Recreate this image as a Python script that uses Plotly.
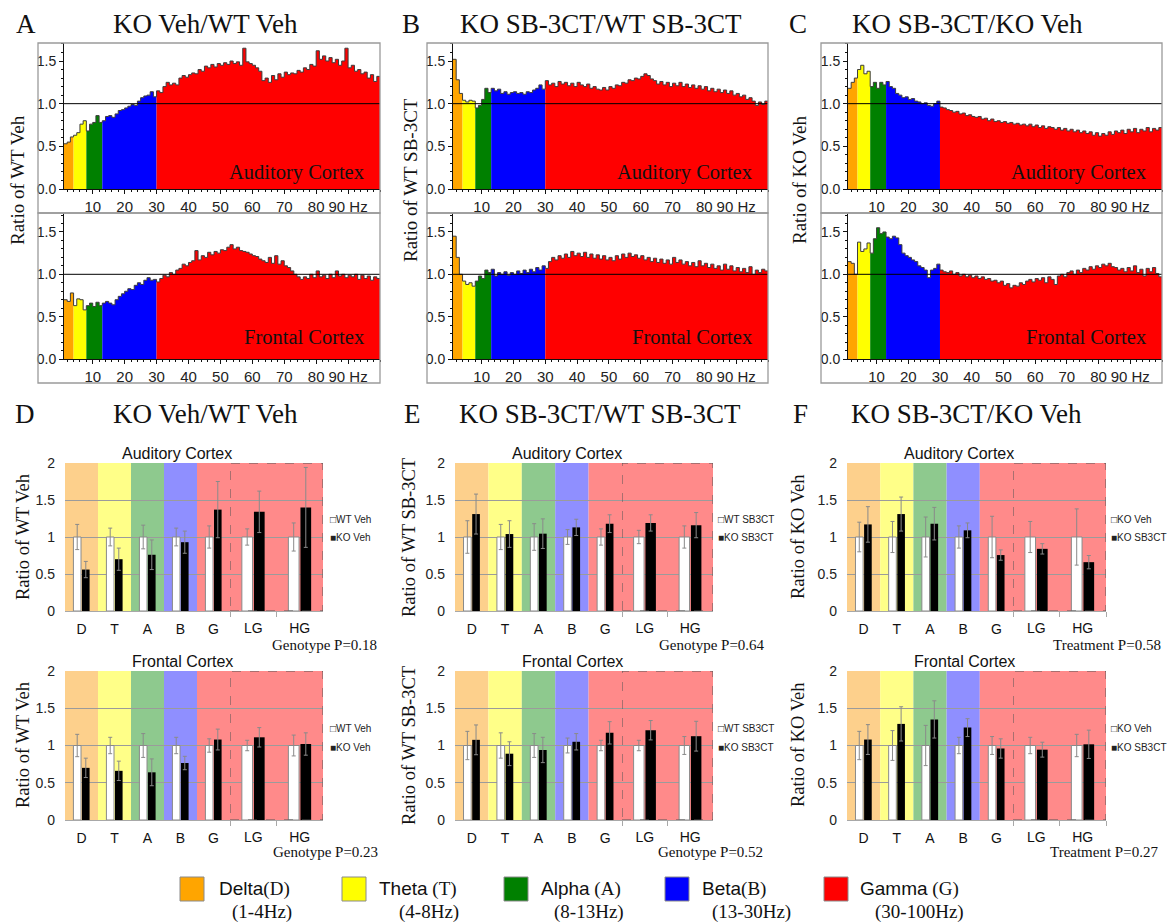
import plotly.graph_objects as go

# ------------------------------------------------------------------ data
FREQ_HZ = list(range(1, 100))  # 1-Hz bins (left edges), 1..99 Hz

A_AUDITORY = [0.53, 0.55, 0.61, 0.63, 0.66, 0.76, 0.80, 0.68, 0.76, 0.78,
              0.86, 0.78, 0.80, 0.85, 0.86, 0.84, 0.88, 0.92, 0.93, 0.95,
              0.97, 0.99, 0.98, 1.03, 1.07, 1.09, 1.10, 1.14, 1.08, 1.15,
              1.13, 1.20, 1.25, 1.22, 1.24, 1.22, 1.30, 1.33, 1.31, 1.34,
              1.36, 1.35, 1.40, 1.38, 1.44, 1.42, 1.46, 1.43, 1.47, 1.45,
              1.48, 1.46, 1.50, 1.47, 1.49, 1.45, 1.65, 1.49, 1.47, 1.45,
              1.42, 1.38, 1.27, 1.30, 1.25, 1.33, 1.28, 1.35, 1.31, 1.37,
              1.34, 1.36, 1.35, 1.39, 1.37, 1.42, 1.40, 1.46, 1.44, 1.62,
              1.52, 1.56, 1.50, 1.54, 1.48, 1.52, 1.45, 1.50, 1.65, 1.42,
              1.45, 1.38, 1.40, 1.35, 1.37, 1.30, 1.34, 1.26, 1.32]
A_FRONTAL = [0.70, 0.68, 0.78, 0.63, 0.71, 0.70, 0.58, 0.63, 0.66, 0.62,
             0.67, 0.63, 0.66, 0.68, 0.66, 0.64, 0.70, 0.74, 0.77, 0.80,
             0.83, 0.82, 0.87, 0.90, 0.88, 0.93, 0.96, 0.93, 0.94, 0.91,
             0.95, 0.99, 0.97, 1.02, 1.00, 1.05, 1.07, 1.12, 1.10, 1.14,
             1.16, 1.28, 1.17, 1.22, 1.20, 1.26, 1.23, 1.27, 1.25, 1.29,
             1.28, 1.32, 1.35, 1.30, 1.32, 1.28, 1.27, 1.26, 1.24, 1.22,
             1.21, 1.18, 1.16, 1.14, 1.20, 1.13, 1.22, 1.12, 1.16, 1.10,
             1.08, 1.04, 1.00, 0.97, 0.94, 0.97, 0.95, 1.00, 0.96, 1.04,
             0.97, 0.99, 0.95, 1.00, 0.96, 1.04, 0.98, 1.00, 0.96, 0.99,
             0.97, 1.00, 0.94, 0.99, 0.95, 0.98, 0.93, 0.97, 0.95]
B_AUDITORY = [1.52, 1.28, 1.12, 1.04, 1.02, 1.04, 1.03, 0.95, 0.98, 1.05,
              1.18, 1.13, 1.18, 1.15, 1.17, 1.12, 1.14, 1.11, 1.13, 1.14,
              1.12, 1.13, 1.11, 1.14, 1.13, 1.16, 1.18, 1.22, 1.17, 1.27,
              1.22, 1.24, 1.20, 1.26, 1.23, 1.25, 1.21, 1.24, 1.20, 1.25,
              1.22, 1.20, 1.23, 1.18, 1.20, 1.17, 1.16, 1.19, 1.16, 1.20,
              1.18, 1.22, 1.21, 1.25, 1.24, 1.28, 1.27, 1.30, 1.29, 1.32,
              1.35, 1.33, 1.29, 1.27, 1.23, 1.26, 1.22, 1.25, 1.20, 1.24,
              1.21, 1.25, 1.20, 1.23, 1.19, 1.22, 1.18, 1.21, 1.17, 1.20,
              1.15, 1.18, 1.14, 1.17, 1.13, 1.16, 1.12, 1.15, 1.10, 1.12,
              1.08, 1.10, 1.05, 1.07, 1.03, 0.98, 1.02, 0.99, 1.03]
B_FRONTAL = [1.45, 1.20, 1.00, 0.92, 0.88, 0.90, 0.86, 0.92, 0.98, 0.95,
             1.05, 1.02, 1.06, 0.98, 1.02, 1.00, 1.03, 0.99, 1.02, 1.00,
             1.04, 1.01, 1.05, 1.02, 1.06, 1.03, 1.08, 1.05, 1.10, 1.07,
             1.15, 1.20, 1.17, 1.22, 1.19, 1.24, 1.20, 1.27, 1.22, 1.25,
             1.21, 1.26, 1.20, 1.24, 1.19, 1.23, 1.18, 1.22, 1.17, 1.20,
             1.16, 1.22, 1.18, 1.24, 1.20, 1.25, 1.21, 1.23, 1.19, 1.22,
             1.17, 1.20, 1.15, 1.19, 1.14, 1.18, 1.13, 1.17, 1.12, 1.20,
             1.14, 1.17, 1.12, 1.15, 1.10, 1.14, 1.09, 1.16, 1.10, 1.13,
             1.08, 1.12, 1.07, 1.10, 1.05, 1.12, 1.06, 1.10, 1.04, 1.08,
             1.03, 1.07, 1.02, 1.09, 1.00, 1.05, 1.02, 1.06, 1.04]
C_AUDITORY = [1.18, 1.25, 1.30, 1.40, 1.45, 1.35, 1.38, 1.20, 1.25, 1.18,
              1.25, 1.22, 1.26, 1.20, 1.18, 1.12, 1.10, 1.07, 1.08, 1.05,
              1.06, 1.03, 1.02, 1.00, 1.01, 0.98, 0.97, 1.00, 1.03, 0.96,
              0.95, 0.93, 0.92, 0.90, 0.91, 0.88, 0.89, 0.86, 0.87, 0.85,
              0.84, 0.85, 0.82, 0.83, 0.80, 0.82, 0.79, 0.80, 0.78, 0.79,
              0.77, 0.78, 0.76, 0.77, 0.75, 0.76, 0.74, 0.76, 0.73, 0.75,
              0.72, 0.74, 0.71, 0.73, 0.72, 0.70, 0.72, 0.69, 0.71, 0.68,
              0.70, 0.67, 0.69, 0.66, 0.68, 0.65, 0.67, 0.63, 0.66, 0.62,
              0.65, 0.63, 0.67, 0.64, 0.68, 0.66, 0.69, 0.65, 0.70, 0.67,
              0.71, 0.66, 0.70, 0.68, 0.72, 0.67, 0.71, 0.69, 0.72]
C_FRONTAL = [1.15, 1.13, 1.00, 1.38, 1.27, 1.30, 1.37, 1.25, 1.42, 1.55,
             1.48, 1.50, 1.44, 1.42, 1.45, 1.43, 1.35, 1.25, 1.22, 1.20,
             1.17, 1.15, 1.10, 1.08, 1.05, 0.96, 1.05, 1.07, 1.12, 1.05,
             1.03, 1.02, 1.04, 1.00, 1.02, 0.98, 1.00, 0.97, 0.99, 0.96,
             0.98, 0.95, 0.97, 0.94, 0.95, 0.92, 0.93, 0.90, 0.92, 0.87,
             0.89, 0.84, 0.87, 0.86, 0.90, 0.88, 0.92, 0.94, 0.91, 0.95,
             0.93, 0.96, 0.90, 0.97, 0.94, 0.88, 0.98, 1.00, 0.97, 1.02,
             1.04, 1.00, 1.05, 1.02, 1.07, 1.05, 1.09, 1.06, 1.10, 1.08,
             1.12, 1.10, 1.13, 1.09, 1.08, 1.05, 1.07, 1.03, 1.08, 1.04,
             1.10, 1.02, 1.06, 0.98, 1.07, 1.03, 1.08, 1.01, 0.97]

BAND_CATS = ["D", "T", "A", "B", "G"]
GAMMA_CATS = ["LG", "HG"]

D_AUD_CTRL = [1, 1, 1, 1, 1, 1, 1]
D_AUD_CTRL_ERR = [0.17, 0.12, 0.16, 0.12, 0.15, 0.11, 0.19]
D_AUD_EXP = [0.56, 0.70, 0.76, 0.93, 1.37, 1.34, 1.40]
D_AUD_EXP_ERR = [0.11, 0.15, 0.20, 0.15, 0.38, 0.28, 0.54]
D_FRO_CTRL = [1, 1, 1, 1, 1, 1, 1]
D_FRO_CTRL_ERR = [0.15, 0.11, 0.16, 0.11, 0.09, 0.07, 0.14]
D_FRO_EXP = [0.70, 0.66, 0.64, 0.765, 1.08, 1.11, 1.02]
D_FRO_EXP_ERR = [0.13, 0.13, 0.18, 0.09, 0.14, 0.13, 0.15]

E_AUD_CTRL = [1, 1, 1, 1, 1, 1, 1]
E_AUD_CTRL_ERR = [0.22, 0.17, 0.18, 0.10, 0.11, 0.09, 0.15]
E_AUD_EXP = [1.31, 1.04, 1.045, 1.13, 1.18, 1.19, 1.16]
E_AUD_EXP_ERR = [0.27, 0.18, 0.20, 0.11, 0.12, 0.11, 0.17]
E_FRO_CTRL = [1, 1, 1, 1, 1, 1, 1]
E_FRO_CTRL_ERR = [0.19, 0.17, 0.16, 0.10, 0.07, 0.07, 0.12]
E_FRO_EXP = [1.076, 0.89, 0.94, 1.05, 1.17, 1.205, 1.125]
E_FRO_EXP_ERR = [0.20, 0.16, 0.17, 0.11, 0.15, 0.13, 0.20]

F_AUD_CTRL = [1, 1, 1, 1, 1, 1, 1]
F_AUD_CTRL_ERR = [0.20, 0.21, 0.27, 0.15, 0.28, 0.21, 0.38]
F_AUD_EXP = [1.17, 1.31, 1.18, 1.09, 0.756, 0.84, 0.66]
F_AUD_EXP_ERR = [0.24, 0.23, 0.22, 0.10, 0.07, 0.07, 0.09]
F_FRO_CTRL = [1, 1, 1, 1, 1, 1, 1]
F_FRO_CTRL_ERR = [0.19, 0.20, 0.27, 0.11, 0.12, 0.11, 0.15]
F_FRO_EXP = [1.08, 1.29, 1.35, 1.24, 0.96, 0.944, 1.016]
F_FRO_EXP_ERR = [0.20, 0.23, 0.25, 0.12, 0.13, 0.10, 0.19]

LEGEND_BANDS = [("Delta", "(D)", "(1-4Hz)"), ("Theta", " (T)", "(4-8Hz)"),
                ("Alpha", " (A)", "(8-13Hz)"), ("Beta", "(B)", "(13-30Hz)"),
                ("Gamma", " (G)", "(30-100Hz)")]

# ------------------------------------------------------------------ styling
W, H = 1172, 923


def px(x):
    return x / W


def py(y):
    return 1 - y / H


SERIF = "Liberation Serif"
SANS = "Liberation Sans"
BAND_EDGES = [(1, 4), (4, 8), (8, 13), (13, 30), (30, 100)]
BAND_STRONG = ["#FFA500", "#FFFF00", "#008000", "#0000FF", "#FF0000"]
BAND_LIGHT = ["#FDD08C", "#FFFF88", "#8EC98E", "#8F8FFF", "#FF8A8A"]

fig = go.Figure()
layout = {}
shapes = []
annotations = []
counter = [0]


def new_axes():
    counter[0] += 1
    n = counter[0]
    s = "" if n == 1 else str(n)
    return "xaxis" + s, "yaxis" + s, "x" + s, "y" + s


def text(x, y, t, size, family=SERIF, xanchor="center", yanchor="middle",
         angle=0, color="#111"):
    annotations.append(dict(x=px(x), y=py(y), xref="paper", yref="paper",
                            text=t, showarrow=False, xanchor=xanchor,
                            yanchor=yanchor, textangle=angle,
                            font=dict(family=family, size=size, color=color)))


# ------------------------------------------------------------------ spectra
XT = [10, 20, 30, 40, 50, 60, 70, 80, 90]
XT_TEXT = ["10", "20", "30", "40", "50", "60", "70", "80", "90 Hz"]


def spectrum(vals, box_l, plot_l, plot_r, box_t, y_top, y_bot, box_b,
             ymax, label, label_y):
    xa, ya, xr, yr = new_axes()
    layout[xa] = dict(domain=[px(plot_l), px(plot_r)], anchor=yr,
                      automargin=False,
                      range=[1, 100], tickmode="array", tickvals=XT,
                      ticktext=XT_TEXT, ticks="outside", ticklen=4,
                      tickcolor="#111", showline=True, linecolor="#111",
                      linewidth=1, showgrid=False, zeroline=False,
                      tickfont=dict(family=SANS, size=15, color="#222"),
                      minor=dict(tickmode="linear", tick0=0, dtick=2,
                                 ticks="outside", ticklen=2,
                                 tickcolor="#111"))
    layout[ya] = dict(domain=[py(y_bot), py(y_top)], anchor=xr,
                      automargin=False,
                      range=[0, ymax], tickmode="array",
                      tickvals=[0, 0.5, 1, 1.5],
                      ticktext=["0.0", "0.5", "1.0", "1.5"],
                      ticks="outside", ticklen=4, tickcolor="#111",
                      showline=True, linecolor="#111", linewidth=1,
                      showgrid=False, zeroline=False,
                      tickfont=dict(family=SANS, size=14, color="#222"),
                      minor=dict(tickmode="linear", tick0=0, dtick=0.1,
                                 ticks="outside", ticklen=2,
                                 tickcolor="#111"))
    # one filled step area per frequency band
    for (lo, hi), col in zip(BAND_EDGES, BAND_STRONG):
        seg = vals[lo - 1:hi - 1]
        xs = FREQ_HZ[lo - 1:hi - 1] + [hi]
        fig.add_trace(go.Scatter(x=xs, y=seg + [seg[-1]], mode="lines",
                                 line=dict(shape="hv", width=0, color=col),
                                 fill="tozeroy", fillcolor=col,
                                 xaxis=xr, yaxis=yr, showlegend=False,
                                 hoverinfo="skip"))
    fig.add_trace(go.Scatter(x=FREQ_HZ + [100], y=vals + [vals[-1]],
                             mode="lines",
                             line=dict(shape="hv", color="#3c3c3c", width=1),
                             xaxis=xr, yaxis=yr, showlegend=False,
                             hoverinfo="skip"))
    shapes.append(dict(type="line", xref=xr, yref=yr, x0=1, x1=100,
                       y0=1, y1=1, line=dict(color="#000", width=1),
                       layer="above"))
    shapes.append(dict(type="rect", xref="paper", yref="paper",
                       x0=px(box_l), x1=px(plot_r), y0=py(box_b),
                       y1=py(box_t), line=dict(color="#9a9a9a", width=1.3),
                       layer="above"))
    text(plot_r - 14, label_y, label, 20.5, xanchor="right")


SPEC_PANELS = [
    dict(letter="A", title="KO Veh/WT Veh", ylab="Ratio of WT Veh",
         letter_x=26, title_x=205, ylab_x=18, box_l=38, plot_l=64,
         plot_r=380, data=(A_AUDITORY, A_FRONTAL)),
    dict(letter="B", title="KO SB-3CT/WT SB-3CT", ylab="Ratio of WT SB-3CT",
         letter_x=411, title_x=601, ylab_x=411, box_l=427, plot_l=453,
         plot_r=768, data=(B_AUDITORY, B_FRONTAL)),
    dict(letter="C", title="KO SB-3CT/KO Veh", ylab="Ratio of KO Veh",
         letter_x=798, title_x=967, ylab_x=800, box_l=821, plot_l=848,
         plot_r=1162, data=(C_AUDITORY, C_FRONTAL)),
]

for p in SPEC_PANELS:
    aud, fro = p["data"]
    spectrum(aud, p["box_l"], p["plot_l"], p["plot_r"], 43, 43, 189, 213,
             1.711, "Auditory Cortex", 172)
    spectrum(fro, p["box_l"], p["plot_l"], p["plot_r"], 213, 213, 359, 383,
             1.724, "Frontal Cortex", 337)
    text(p["letter_x"], 24, p["letter"], 27)
    text(p["title_x"], 24, p["title"], 27)
    text(p["ylab_x"], 180, p["ylab"], 19, angle=-90)


# ------------------------------------------------------------------ bar panels
def bar_chart(plot_l, split, plot_r, y_top, y_bot, ctrl, ctrl_err, exp,
              exp_err, names, region, legend_x, legend_y, region_dx):
    main_ax = new_axes()
    gam_ax = new_axes()
    for (xa, ya, xr, yr), cats, dom, show in (
            (main_ax, BAND_CATS, [px(plot_l), px(split)], True),
            (gam_ax, GAMMA_CATS, [px(split), px(plot_r)], False)):
        xcfg = dict(domain=dom, anchor=yr, type="category", automargin=False,
                    range=[-0.5, len(cats) - 0.5], categoryorder="array",
                    categoryarray=cats, showline=True, linecolor="#a8a8a8",
                    showgrid=False, zeroline=False, ticks="",
                    ticklabelstandoff=5,
                    tickfont=dict(family=SANS, size=14, color="#111"))
        if not show:
            xcfg.update(tickson="boundaries", ticks="outside", ticklen=5,
                        tickcolor="#a8a8a8", ticklabelstandoff=4)
        layout[xa] = xcfg
        layout[ya] = dict(domain=[py(y_bot), py(y_top)], anchor=xr,
                          automargin=False,
                          range=[0, 2], tickmode="array",
                          tickvals=[0, 0.5, 1, 1.5, 2],
                          ticktext=["0", "0.5", "1", "1.5", "2"],
                          showticklabels=show, showgrid=True,
                          gridcolor="#9b9b9b", gridwidth=1, zeroline=False,
                          showline=False, ticks="", ticklabelstandoff=9,
                          tickfont=dict(family=SANS, size=14, color="#222"))
    xr, yr = main_ax[2], main_ax[3]
    for i, cat in enumerate(BAND_CATS):
        shapes.append(dict(type="rect", xref=xr, yref=yr, x0=i - 0.5,
                           x1=i + 0.5, y0=0, y1=2, fillcolor=BAND_LIGHT[i],
                           line=dict(width=0), layer="below"))
    gx, gy = gam_ax[2], gam_ax[3]
    shapes.append(dict(type="rect", xref=gx, yref=gy, x0=-0.5, x1=1.5,
                       y0=0, y1=2, fillcolor=BAND_LIGHT[4],
                       line=dict(width=0), layer="below"))
    shapes.append(dict(type="rect", xref=gx, yref=gy, x0=-0.5, x1=1.5,
                       y0=0, y1=2, line=dict(color="#555", width=1,
                                             dash="dash"),
                       layer="above"))
    for (xa, ya, xr_, yr_), cats, sl in ((main_ax, BAND_CATS, slice(0, 5)),
                                         (gam_ax, GAMMA_CATS, slice(5, 7))):
        fig.add_trace(go.Bar(
            x=cats, y=ctrl[sl], offset=-0.245, width=0.23,
            marker=dict(color="white", line=dict(color="#8a8a8a", width=1)),
            error_y=dict(type="data", array=ctrl_err[sl], color="#8a8a8a",
                         thickness=1, width=2),
            xaxis=xr_, yaxis=yr_, showlegend=False, hoverinfo="skip"))
        fig.add_trace(go.Bar(
            x=cats, y=exp[sl], offset=0.015, width=0.23,
            marker=dict(color="black", line=dict(width=0)),
            error_y=dict(type="data", array=exp_err[sl], color="#8a8a8a",
                         thickness=1, width=2),
            xaxis=xr_, yaxis=yr_, showlegend=False, hoverinfo="skip"))
    text(plot_l + region_dx, y_top - 10, region, 16, family=SANS,
         color="#111")
    text(legend_x, legend_y[0], "\u25a1" + names[0], 10, family=SANS,
         xanchor="left", color="#222")
    text(legend_x, legend_y[1], "\u25a0" + names[1], 10, family=SANS,
         xanchor="left", color="#222")


BAR_PANELS = [
    dict(letter="D", title="KO Veh/WT Veh", ylab="Ratio of WT Veh",
         letter_x=25, title_x=205, ylab_x=23, l=65, s=230, r=323,
         names=("WT Veh", "KO Veh"), legend_x=328,
         aud=(D_AUD_CTRL, D_AUD_CTRL_ERR, D_AUD_EXP, D_AUD_EXP_ERR),
         fro=(D_FRO_CTRL, D_FRO_CTRL_ERR, D_FRO_EXP, D_FRO_EXP_ERR),
         p_lab=("Genotype P=0.18", "Genotype P=0.23"), p_x=(379, 380)),
    dict(letter="E", title="KO SB-3CT/WT SB-3CT", ylab="Ratio of WT SB-3CT",
         letter_x=412, title_x=600, ylab_x=409, l=455, s=622, r=713,
         names=("WT SB3CT", "KO SB3CT"), legend_x=716,
         aud=(E_AUD_CTRL, E_AUD_CTRL_ERR, E_AUD_EXP, E_AUD_EXP_ERR),
         fro=(E_FRO_CTRL, E_FRO_CTRL_ERR, E_FRO_EXP, E_FRO_EXP_ERR),
         p_lab=("Genotype P=0.64", "Genotype P=0.52"), p_x=(767, 765)),
    dict(letter="F", title="KO SB-3CT/KO Veh", ylab="Ratio of KO Veh",
         letter_x=800, title_x=966, ylab_x=798, l=847, s=1013, r=1106,
         names=("KO Veh", "KO SB3CT"), legend_x=1109,
         aud=(F_AUD_CTRL, F_AUD_CTRL_ERR, F_AUD_EXP, F_AUD_EXP_ERR),
         fro=(F_FRO_CTRL, F_FRO_CTRL_ERR, F_FRO_EXP, F_FRO_EXP_ERR),
         p_lab=("Treatment P=0.58", "Treatment P=0.27"), p_x=(1163, 1160)),
]

for p in BAR_PANELS:
    bar_chart(p["l"], p["s"], p["r"], 463, 611, *p["aud"], p["names"],
              "Auditory Cortex", p["legend_x"], (519, 537), 112)
    bar_chart(p["l"], p["s"], p["r"], 671, 820, *p["fro"], p["names"],
              "Frontal Cortex", p["legend_x"], (728, 747), 117)
    text(p["letter_x"], 414, p["letter"], 27)
    text(p["title_x"], 414, p["title"], 27)
    text(p["ylab_x"], 537, p["ylab"], 18.5, angle=-90)
    text(p["ylab_x"], 745, p["ylab"], 18.5, angle=-90)
    text(p["p_x"][0], 645, p["p_lab"][0], 15, xanchor="right")
    text(p["p_x"][1], 852, p["p_lab"][1], 15, xanchor="right")

# ------------------------------------------------------------------ band legend
LEG_BOX_X = [180, 342, 504, 665, 824]
LEG_TXT_X = [217, 377, 539, 700, 858]
LEG_SUB_X = [230, 397, 552, 710, 873]
for (name, abbr, rng), c, bx, tx, sx in zip(LEGEND_BANDS, BAND_STRONG,
                                            LEG_BOX_X, LEG_TXT_X, LEG_SUB_X):
    shapes.append(dict(type="rect", xref="paper", yref="paper",
                       x0=px(bx), x1=px(bx + 24), y0=py(901), y1=py(877),
                       fillcolor=c, line=dict(color="#8a8a8a", width=1),
                       layer="above"))
    text(tx, 889, name + "<span style=\"font-family:'Liberation Serif'\">"
         + abbr + "</span>", 19, family=SANS, xanchor="left")
    text(sx, 912, rng, 19, xanchor="left")

layout.update(dict(width=W, height=H, autosize=False,
                   margin=dict(l=0, r=0, t=0, b=0, pad=0, autoexpand=False),
                   paper_bgcolor="white", plot_bgcolor="rgba(0,0,0,0)",
                   barmode="overlay", showlegend=False,
                   shapes=shapes, annotations=annotations))
fig.update_layout(**layout)

# pin the figure to the top-left corner of the page (no body margin)
PIN_JS = ("document.body.style.margin='0';"
          "document.body.style.overflow='hidden';"
          "var gd=document.getElementById('{plot_id}');"
          "gd.style.position='fixed';gd.style.left='0px';gd.style.top='0px';")
fig.write_html("out.html", post_script=PIN_JS,
               config={"displayModeBar": False})
